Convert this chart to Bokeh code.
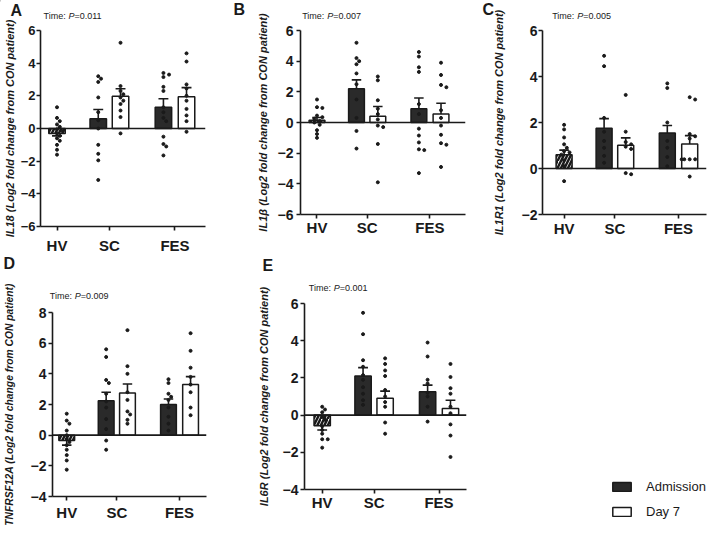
from bokeh.plotting import figure
from bokeh.models import Range1d, FixedTicker, Span, Label, Legend, LegendItem, GridBox
from bokeh.layouts import row, column
from bokeh.embed import file_html
from bokeh.resources import INLINE

FONT = "Liberation Sans"
INK = "#1a1a1a"
DARK = "#2a2a2a"

groups = ["HV", "SC", "FES"]
series = ["Admission", "Day 7"]
# bar order in every panel: HV, SC Admission, SC Day 7, FES Admission, FES Day 7
bar_pos = [1.0, 3.5, 4.85, 7.45, 8.85]
tick_pos = [1.0, 4.175, 8.15]

# ---------------- Panel A : IL18 ----------------
A_gene = "IL18"
A_pval = "0.011"
A_mean = [-0.3, 0.6, 1.98, 1.3, 1.94]
A_sem = [0.15, 0.56, 0.45, 0.52, 0.56]
A_HV = [1.3, 0.65, 0.45, 0.25, 0.1, -0.05, -0.15, -0.3, -0.45, -0.6, -0.75, -1.0, -1.3, -1.6]
A_SC_adm = [3.2, 3.05, 2.85, 1.9, 1.0, 0.5, 0.0, -1.0, -1.55, -1.95, -3.15]
A_SC_d7 = [5.25, 2.6, 2.3, 2.1, 1.9, 1.7, 1.5, 1.1, 0.7, -0.3]
A_FES_adm = [3.4, 3.3, 3.15, 2.55, 2.3, 1.3, 1.0, 0.65, 0.45, -0.5, -0.95, -1.1, -1.65]
A_FES_d7 = [4.6, 4.1, 2.7, 2.45, 2.0, 1.7, 1.2, 0.8, 0.45, -0.2]

# ---------------- Panel B : IL1β ----------------
B_gene = "IL1\u03b2"
B_pval = "0.007"
B_mean = [0.15, 2.2, 0.41, 0.9, 0.56]
B_sem = [0.18, 0.58, 0.63, 0.7, 0.7]
B_HV = [1.5, 1.0, 0.95, 0.45, 0.35, 0.25, 0.1, 0.0, -0.15, -0.5, -0.75, -1.0]
B_SC_adm = [5.2, 4.2, 4.0, 3.8, 3.2, 2.5, 1.5, 0.3, -0.55, -1.7]
B_SC_d7 = [3.0, 2.75, 1.45, 0.9, 0.55, 0.2, -0.2, -0.3, -1.4, -3.9]
B_FES_adm = [4.6, 4.3, 3.6, 3.3, 1.2, 0.55, -0.4, -0.85, -1.3, -1.75, -1.8, -3.3]
B_FES_d7 = [3.9, 3.1, 2.45, 2.3, 0.8, 0.3, -0.2, -0.8, -1.35, -1.45, -2.9]

# ---------------- Panel C : IL1R1 ----------------
C_gene = "IL1R1"
C_pval = "0.005"
C_mean = [0.6, 1.75, 1.01, 1.54, 1.07]
C_sem = [0.2, 0.42, 0.32, 0.33, 0.36]
C_HV = [1.9, 1.7, 1.35, 1.05, 0.9, 0.75, 0.7, 0.6, 0.35, 0.1, -0.55]
C_SC_adm = [4.9, 4.45, 2.2, 1.6, 1.2, 0.9, 0.55, 0.25]
C_SC_d7 = [3.2, 1.6, 1.15, 1.05, 0.95, 0.85, -0.2, -0.25]
C_FES_adm = [3.7, 3.5, 2.0, 1.2, 0.9, 0.5, 0.1]
C_FES_d7 = [3.1, 3.0, 1.5, 1.4, 1.3, 0.4, 0.4, 0.4, 0.4, -0.35]

# ---------------- Panel D : TNFRSF12A ----------------
D_gene = "TNFRSF12A"
D_pval = "0.009"
D_mean = [-0.35, 2.25, 2.75, 2.0, 3.3]
D_sem = [0.3, 0.55, 0.59, 0.36, 0.52]
D_HV = [1.4, 0.95, 0.75, 0.3, 0.0, -0.25, -0.45, -0.65, -0.95, -1.3, -1.65, -2.25]
D_SC_adm = [5.6, 5.1, 3.6, 3.4, 2.7, 2.2, 1.8, 1.05, 0.4, -0.35, -0.95]
D_SC_d7 = [6.85, 4.5, 4.0, 2.8, 2.3, 1.55, 1.35, 1.0, 0.75]
D_FES_adm = [3.65, 3.4, 2.7, 2.5, 2.3, 1.8, 1.2, 0.75, 0.3]
D_FES_d7 = [6.65, 5.5, 4.4, 3.8, 3.3, 2.8, 1.8, 1.3]

# ---------------- Panel E : IL6R ----------------
E_gene = "IL6R"
E_pval = "0.001"
E_mean = [-0.57, 2.1, 0.9, 1.25, 0.36]
E_sem = [0.23, 0.45, 0.39, 0.36, 0.44]
E_HV = [0.45, 0.3, 0.15, -0.1, -0.25, -0.6, -0.8, -1.0, -1.3, -1.3, -1.75]
E_SC_adm = [5.5, 4.35, 2.95, 2.6, 2.15, 1.9, 1.5, 1.15, 0.8, 0.55]
E_SC_d7 = [3.05, 2.75, 2.4, 2.1, 1.35, 1.0, 0.7, 0.45, -0.4, -1.0]
E_FES_adm = [3.9, 3.15, 1.9, 1.7, 1.2, 1.0, 0.45, -0.35]
E_FES_d7 = [2.75, 2.05, 1.45, 1.15, 0.45, 0.1, -0.5, -1.1, -2.25]

BW = 1.0
CAP = 0.3


def swarm(vals, xc, xpx, ypx, mind=3.6):
    cands = [0.0, 0.17, -0.17, 0.34, -0.34, 0.5, -0.5]
    placed = []
    out = [xc] * len(vals)
    order = sorted(range(len(vals)), key=lambda i: -vals[i])
    for i in order:
        y = vals[i]
        chosen = cands[-1]
        for c in cands:
            if all(((c - pc) * xpx) ** 2 + ((y - py) * ypx) ** 2 >= mind ** 2 for pc, py in placed):
                chosen = c
                break
        placed.append((chosen, y))
        out[i] = xc + chosen
    return out


def make_panel(c):
    p = figure(width=c["W"], height=c["H"], x_range=Range1d(*c["xr"]),
               y_range=Range1d(c["ymin"], c["ymax"]), output_backend="svg",
               toolbar_location=None, min_border_left=c["bl"], min_border_right=c["br"],
               min_border_top=c["bt"], min_border_bottom=c["bb"])
    try:
        p.frame_align = False
    except Exception:
        pass
    p.outline_line_color = None
    p.xgrid.visible = False
    p.ygrid.visible = False

    m, s = c["mean"], c["sem"]
    p.vbar(x=[bar_pos[0]], top=[m[0]], bottom=0, width=BW, fill_color="white",
           line_color=INK, line_width=1.5, hatch_pattern="/", hatch_color=INK,
           hatch_scale=7, hatch_weight=2.5)
    p.vbar(x=[bar_pos[1], bar_pos[3]], top=[m[1], m[3]], bottom=0, width=BW,
           fill_color=DARK, line_color=INK, line_width=1.5)
    p.vbar(x=[bar_pos[2], bar_pos[4]], top=[m[2], m[4]], bottom=0, width=BW,
           fill_color="white", line_color=INK, line_width=1.5)

    ends = [mm + ss if mm >= 0 else mm - ss for mm, ss in zip(m, s)]
    p.segment(x0=bar_pos, y0=m, x1=bar_pos, y1=ends, line_color=INK, line_width=1.6)
    p.segment(x0=[x - CAP for x in bar_pos], y0=ends, x1=[x + CAP for x in bar_pos],
              y1=ends, line_color=INK, line_width=1.6)

    fw = c["W"] - c["bl"] - c["br"]
    fh = c["H"] - c["bt"] - c["bb"]
    xpx = fw / (c["xr"][1] - c["xr"][0])
    ypx = fh / (c["ymax"] - c["ymin"])
    xs, ys = [], []
    for xc, vals in zip(bar_pos, c["dots"]):
        xs += swarm(vals, xc, xpx, ypx)
        ys += vals
    p.scatter(x=xs, y=ys, size=3.0, color=INK, marker="circle")

    p.add_layout(Span(location=0, dimension="width", line_color=INK, line_width=1.6))

    for ax in (p.xaxis[0], p.yaxis[0]):
        ax.axis_line_color = INK
        ax.axis_line_width = 1.6
        ax.major_tick_line_color = INK
        ax.major_tick_line_width = 1.6
        ax.major_tick_out = 4
        ax.major_tick_in = 0
        ax.minor_tick_out = 0
        ax.minor_tick_in = 0
        ax.major_label_text_font = FONT
        ax.major_label_text_font_style = "bold"
        ax.major_label_text_color = INK

    p.yaxis.ticker = FixedTicker(ticks=list(range(c["ymin"], c["ymax"] + 1, 2)))
    p.yaxis.major_label_text_font_size = c["yfs"]
    p.yaxis.major_label_standoff = c["ystand"]
    p.yaxis.axis_label = c["gene"] + " (Log2 fold change from CON patient)"
    p.yaxis.axis_label_text_font = FONT
    p.yaxis.axis_label_text_font_style = "bold italic"
    p.yaxis.axis_label_text_font_size = c.get("lfs", "11px")
    p.yaxis.axis_label_text_color = INK
    p.yaxis.axis_label_standoff = c["ylab"]

    p.xaxis.ticker = FixedTicker(ticks=tick_pos)
    p.xaxis.major_label_overrides = {tick_pos[i]: groups[i] for i in range(3)}
    p.xaxis.major_label_text_font_size = "15px"
    p.xaxis.major_label_standoff = c["xstand"]
    return p


cfgA = dict(gene=A_gene, mean=A_mean, sem=A_sem,
            dots=[A_HV, A_SC_adm, A_SC_d7, A_FES_adm, A_FES_d7],
            W=232, H=258, bl=40, br=27, bt=30, bb=32, xr=(0.0, 10.0), ymin=-6, ymax=6,
            yfs="13px", ystand=1, ylab=2, xstand=6)
cfgB = dict(gene=B_gene, mean=B_mean, sem=B_sem,
            dots=[B_HV, B_SC_adm, B_SC_d7, B_FES_adm, B_FES_d7],
            W=235, H=258, bl=68, br=2, bt=30, bb=44, xr=(-0.044, 10.4), ymin=-6, ymax=6,
            yfs="14px", ystand=3, ylab=6, xstand=0)
cfgC = dict(gene=C_gene, mean=C_mean, sem=C_sem,
            dots=[C_HV, C_SC_adm, C_SC_d7, C_FES_adm, C_FES_d7],
            W=240, H=258, bl=75, br=1, bt=30, bb=44, xr=(-0.35, 9.9), ymin=-2, ymax=6,
            yfs="14px", ystand=1, ylab=14, xstand=1)
cfgD = dict(gene=D_gene, mean=D_mean, sem=D_sem,
            dots=[D_HV, D_SC_adm, D_SC_d7, D_FES_adm, D_FES_d7],
            W=230, H=274, bl=49, br=24, bt=54, bb=36, xr=(0.098, 9.86), ymin=-4, ymax=8,
            yfs="14px", ystand=2, ylab=13, xstand=3, lfs="10.3px")
cfgE = dict(gene=E_gene, mean=E_mean, sem=E_sem,
            dots=[E_HV, E_SC_adm, E_SC_d7, E_FES_adm, E_FES_d7],
            W=240, H=274, bl=74, br=4, bt=45, bb=43, xr=(-0.083, 9.83), ymin=-4, ymax=6,
            yfs="14px", ystand=2, ylab=10, xstand=0)

pA, pB, pC, pD, pE = [make_panel(c) for c in (cfgA, cfgB, cfgC, cfgD, cfgE)]

# ---- overlay with panel letters, "Time: P=" notes and the legend ----
OW, OH = 707, 532
ov = figure(width=OW, height=OH, x_range=Range1d(0, OW), y_range=Range1d(OH, 0),
            output_backend="svg", toolbar_location=None, x_axis_type=None,
            y_axis_type=None, min_border=0)
ov.outline_line_color = None
ov.grid.visible = False
ov.background_fill_color = None
ov.border_fill_color = None

letters = ["A", "B", "C", "D", "E"]
letter_xy = [(10, 10), (233, 9), (482, 9), (3, 263), (262, 265)]
pvals = [A_pval, B_pval, C_pval, D_pval, E_pval]
time_xy = [(43, 15), (301.7, 15), (551.7, 15), (49.3, 295), (308.3, 287)]


def txt(x, y, text, size, style="normal"):
    ov.add_layout(Label(x=x, y=y, text=text, text_font=FONT, text_font_size=size,
                        text_font_style=style, text_color=INK, text_align="left",
                        text_baseline="middle"))


for L, (lx, ly) in zip(letters, letter_xy):
    txt(lx, ly, L, "16px", "bold")
for pv, (tx, ty) in zip(pvals, time_xy):
    txt(tx, ty, "Time:", "9px")
    txt(tx + 25, ty, "P", "9px", "italic")
    txt(tx + 31, ty, "=" + pv, "9px")

r1 = ov.vbar(x=[-100], top=[-100], width=1, fill_color=DARK, line_color=INK, line_width=1.5)
r2 = ov.vbar(x=[-100], top=[-100], width=1, fill_color="white", line_color=INK, line_width=1.5)
leg = Legend(items=[LegendItem(label=series[0], renderers=[r1]),
                    LegendItem(label=series[1], renderers=[r2])],
             location=(610, 13), glyph_width=23, glyph_height=11, label_standoff=13,
             spacing=10, padding=0, margin=0, border_line_color=None,
             background_fill_alpha=0, label_text_font=FONT, label_text_font_size="13px",
             label_text_color=INK)
ov.add_layout(leg)

main = column(row(pA, pB, pC), row(pD, pE))
grid = GridBox(children=[(main, 0, 0), (ov, 0, 0)])
open("out.html", "w").write(file_html(grid, INLINE))
